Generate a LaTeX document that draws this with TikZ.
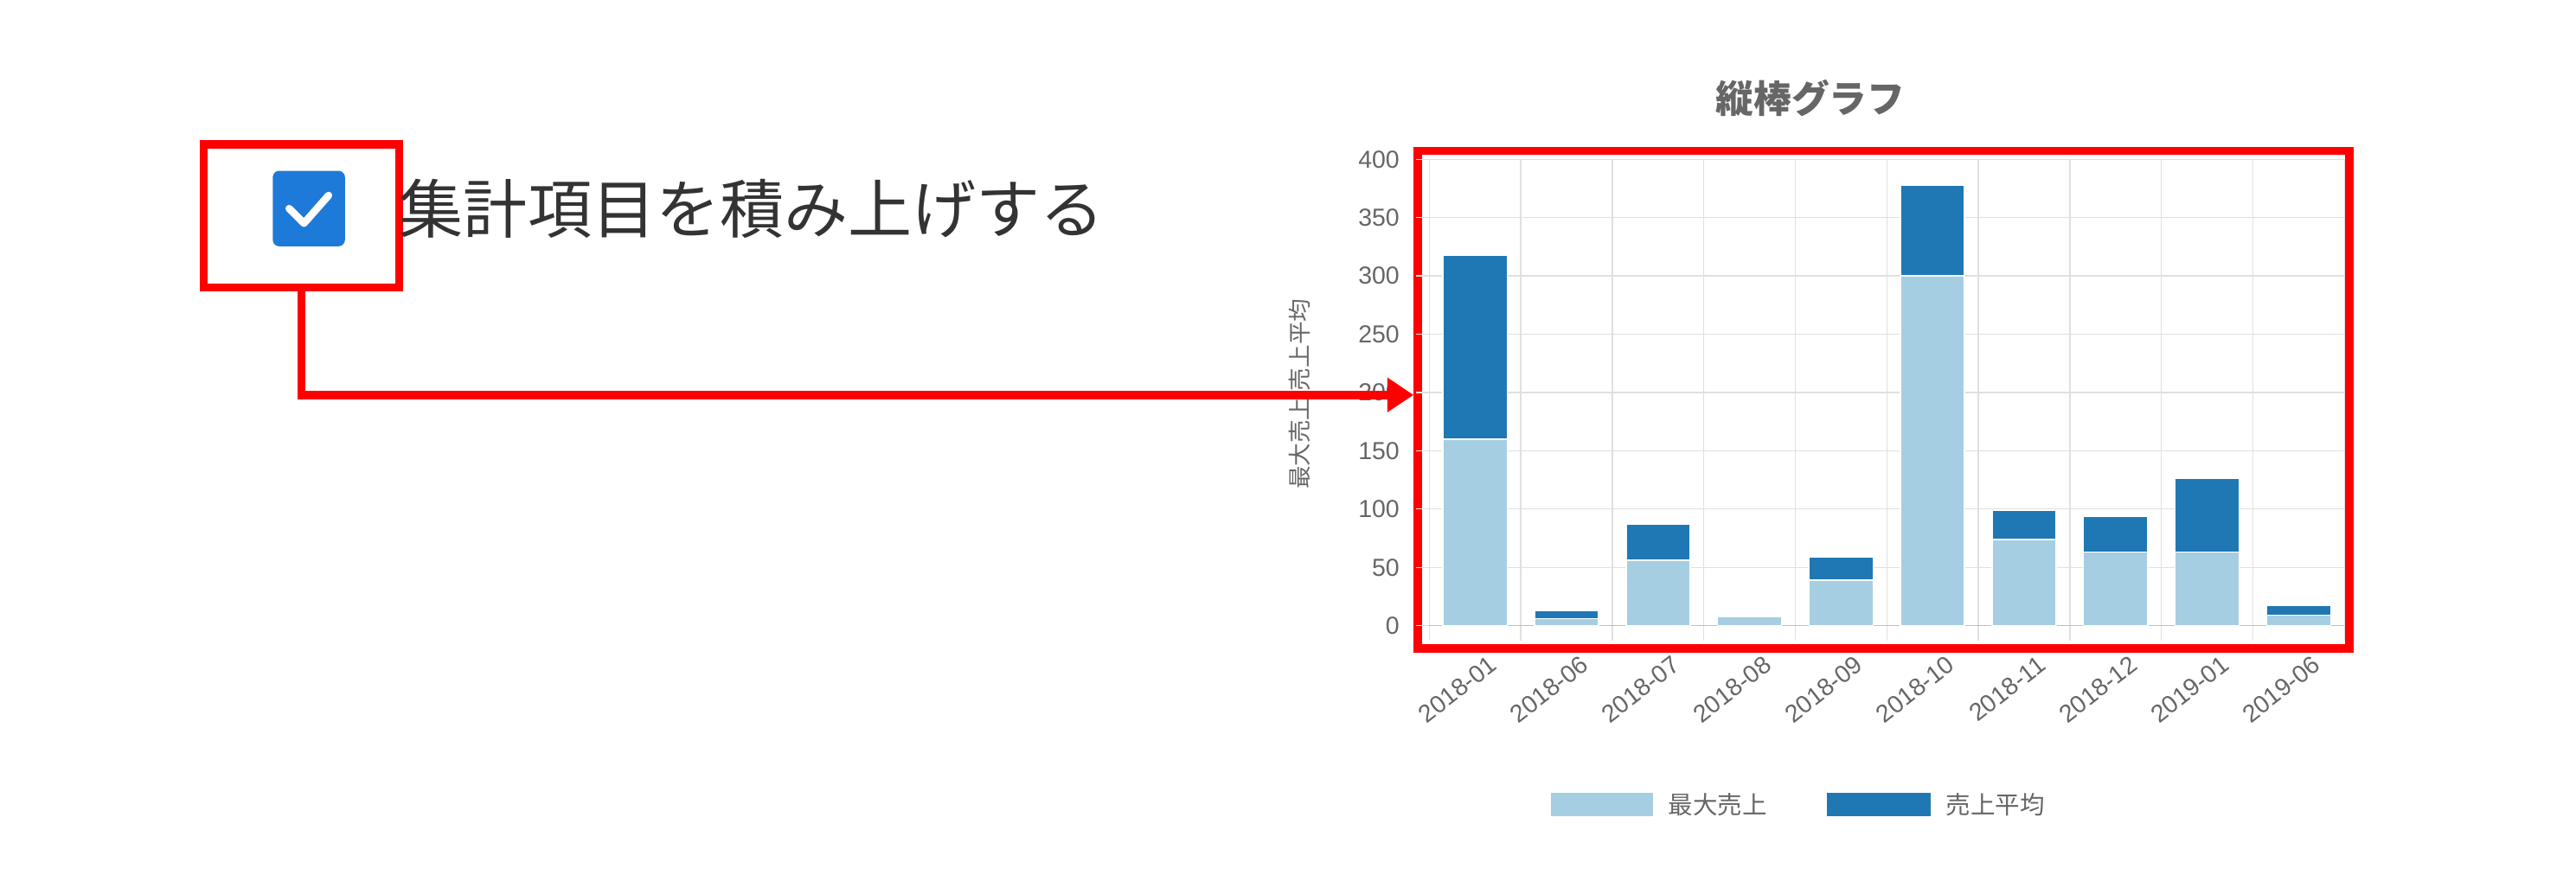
\documentclass[tikz,border=0pt]{standalone}
\usepackage{fontspec}
\setmainfont{Noto Sans CJK JP}
\newfontfamily\arl{Liberation Sans}
\usetikzlibrary{arrows.meta}
\definecolor{lightb}{HTML}{A6CEE3}
\definecolor{darkb}{HTML}{1F78B4}
\definecolor{redc}{HTML}{FF0000}
\definecolor{txt}{HTML}{666666}
\definecolor{chk}{HTML}{1E7AD8}
\definecolor{grid}{HTML}{E0E0E0}
\begin{document}
\begin{tikzpicture}[x=1pt,y=-1pt,
  redbox/.style={draw=redc,line width=5pt,inner sep=0pt},
  tick/.style={font=\arl\fontsize{15}{15}\selectfont,text=txt,anchor=east,inner sep=1pt},
  xlab/.style={font=\arl\fontsize{15}{15}\selectfont,text=txt,anchor=north east,rotate=38,inner sep=1pt},
  seg/.style={draw=white,line width=0.8pt}]
\useasboundingbox (0,0) rectangle (1568,544);
% checkbox
\node[redbox,minimum width=119pt,minimum height=87pt] (cbbox) at (183.5,131.5) {};
\node[fill=chk,rounded corners=4pt,minimum width=44pt,minimum height=46pt] (cb) at (188,127) {};
\draw[white,line width=4.5pt,line cap=round,line join=round] (176,127) -- (185,136) -- (200,119);
\node[anchor=west,font=\fontsize{39}{39}\selectfont,text=black!80,inner sep=0pt] (lbl) at (243,127) {集計項目を積み上げする};
% chart frame
\node[redbox,minimum width=567pt,minimum height=303pt] (chart) at (1146.5,243.5) {};
\node[font=\bfseries\fontsize{23}{23}\selectfont,text=txt] (title) at (1102,60) {縦棒グラフ};
% grid
\foreach \i in {0,...,8} {\draw[grid,line width=0.7pt] (862,{381-\i*35.5}) -- (1427,{381-\i*35.5});
  \node[tick] (t\i) at (853,{381-\i*35.5}) {\pgfmathparse{int(\i*50)}\pgfmathresult};}
\foreach \k in {0,...,10} {\draw[grid,line width=0.7pt] ({870+\k*55.7},97) -- ({870+\k*55.7},390);}
\draw[black!25,line width=0.8pt] (870,381) -- (1427,381);
\node[rotate=90,font=\fontsize{14}{14}\selectfont,text=txt] (ytitle) at (792,240) {最大売上,売上平均};
% bars
\foreach \k/\a/\b/\l in {0/160/318/2018-01,1/6/13/2018-06,2/56/87/2018-07,3/8/8/2018-08,4/39/59/2018-09,5/300/378/2018-10,6/74/99/2018-11,7/63/94/2018-12,8/63/126/2019-01,9/9/17/2019-06} {
  \pgfmathsetmacro\cx{897.85+\k*55.7}
  \fill[lightb,seg] ({\cx-19.5},381) rectangle ({\cx+19.5},{381-0.71*\a});
  \fill[darkb,seg] ({\cx-19.5},{381-0.71*\a}) rectangle ({\cx+19.5},{381-0.71*\b});
  \node[xlab] (x\k) at ({\cx+8},397) {\l};
}
% legend
\fill[lightb] (944,483) rectangle (1006,497);
\node[anchor=west,font=\fontsize{15}{15}\selectfont,text=txt] (lg1) at (1012,490) {最大売上};
\fill[darkb] (1112,483) rectangle (1175,497);
\node[anchor=west,font=\fontsize{15}{15}\selectfont,text=txt] (lg2) at (1181,490) {売上平均};
% arrow
\draw[redc,line width=5pt,-{Triangle[length=16pt,width=20pt]}] (cbbox.south) |- ([yshift=3pt]chart.west);
\end{tikzpicture}
\end{document}
